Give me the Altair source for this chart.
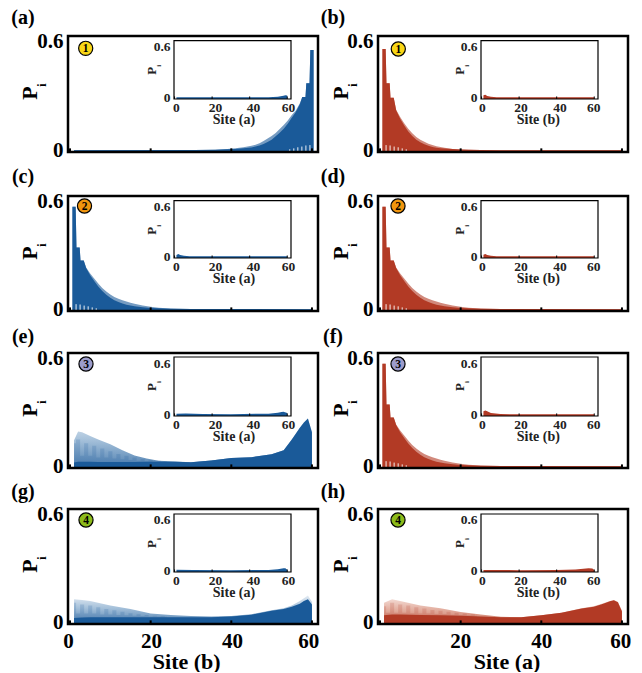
import altair as alt
import pandas as pd

BLUE = "#1a5a99"
RED = "#b23a25"
FONT = "Liberation Serif"
BADGE_COLORS = {1: "#f9d616", 2: "#f0950e", 3: "#9c9ccb", 4: "#8dbb1a"}
TICK_SITES = [0, 20, 40, 60]
# Where the printed tick labels sit along the site axis (the figure's labels are slightly off their ticks)
MAIN_LABEL_AT = [[-.5, 20.1, 40.2, 59.1], [-.57, 19.9, 40, 59.6]]
INSET_LABEL_AT = [[.75, 21.5, 41.7, 60.4], [.2, 20.7, 41.5, 59.5]]

# Spike profiles: sites measured from the spike edge, flat-topped columns for the first three sites
SPIKE_N = [.6, 1.4, 1.6, 2.4, 2.6, 3.4, 4, 5, 6, 7, 8, 9, 10, 11, 12, 13, 14, 15, 16, 18, 20, 22, 25, 30, 60]
CURVE_A_OUT = [.553, .553, .37, .37, .295, .295, .26, .22, .195, .165, .14, .118, .096, .08, .066, .052, .04, .032, .026, .018, .012, .008, .005, .003, .002]
CURVE_A_IN = [.553, .553, .37, .37, .295, .295, .255, .212, .18, .148, .12, .098, .078, .06, .047, .036, .028, .022, .017, .012, .009, .007, .005, .003, .002]
CURVE_B_OUT = [.558, .558, .37, .37, .29, .29, .225, .185, .15, .12, .095, .075, .06, .048, .038, .03, .024, .019, .015, .009, .006, .004, .003, .002, .002]
CURVE_B_IN = [.558, .558, .37, .37, .29, .29, .222, .175, .138, .105, .08, .06, .045, .034, .026, .02, .016, .013, .011, .008, .006, .004, .003, .002, .002]
CURVE_C_OUT = [.57, .57, .344, .344, .272, .272, .234, .2, .173, .145, .12, .1, .083, .07, .06, .052, .045, .038, .032, .022, .015, .01, .006, .003, .002]
CURVE_C_IN = [.57, .57, .344, .344, .272, .272, .23, .19, .158, .128, .103, .082, .066, .052, .042, .034, .027, .022, .018, .013, .009, .007, .005, .003, .002]

GAP_N = [1.5, 2.5, 3.5, 4.5, 5.5, 6.5]
GAP_TOP = [.03, .028, .022, .018, .012, .007]

E_SITES = [1, 2, 3, 5, 7, 10, 13, 16, 19, 22, 26, 30, 35, 40, 45, 50, 53, 55, 57, 58, 59, 60]
E_OUT = [.146, .195, .19, .17, .15, .124, .09, .062, .045, .032, .028, .024, .033, .047, .052, .068, .09, .15, .215, .245, .267, .19]
E_IN = [.022, .026, .026, .026, .025, .025, .025, .025, .026, .026, .026, .024, .033, .047, .052, .068, .09, .15, .215, .245, .267, .19]
E_MID_SITES = list(range(1, 25))
E_MID = [.13, .15, .06, .13, .06, .115, .05, .10, .05, .085, .045, .07, .04, .06, .036, .05, .032, .042, .03, .036, .028, .032, .026, .028]

G_SITES = [1, 3, 5, 10, 15, 20, 25, 30, 35, 40, 45, 50, 53, 55, 57, 58, 59, 60]
G_OUT = [.13, .125, .12, .095, .075, .05, .042, .037, .034, .036, .046, .068, .08, .095, .12, .135, .15, .115]
G_IN = [.025, .028, .03, .03, .03, .03, .03, .03, .03, .034, .044, .065, .075, .088, .105, .12, .13, .1]
G_MID_SITES = list(range(1, 25))
G_MID = [.11, .05, .10, .05, .095, .05, .085, .045, .075, .045, .068, .042, .06, .04, .052, .038, .046, .036, .042, .034, .038, .033, .036, .032]

H_OUT = [.11, .13, .12, .095, .08, .058, .045, .032, .03, .04, .055, .08, .09, .105, .12, .125, .115, .065]
H_IN = [.04, .045, .045, .042, .04, .038, .034, .03, .03, .04, .055, .078, .088, .102, .118, .124, .113, .062]
H_MID_SITES = list(range(1, 25))
H_MID = [.09, .055, .11, .055, .1, .055, .095, .052, .085, .05, .078, .05, .07, .048, .066, .048, .06, .044, .054, .042, .05, .04, .046, .038]

INSET_END = {
    "a": ([1, 40, 50, 55, 58, 59, 60], [.005, .005, .007, .012, .022, .03, .025]),
    "b": ([1, 2, 3, 5, 8, 12, 60], [.03, .035, .02, .012, .006, .005, .005]),
    "c": ([1, 2, 3, 5, 8, 12, 60], [.02, .034, .022, .012, .006, .005, .005]),
    "d": ([1, 2, 3, 5, 8, 12, 60], [.025, .032, .02, .012, .006, .005, .005]),
    "e": ([1, 6, 15, 30, 50, 55, 57, 58, 60], [.012, .015, .008, .006, .012, .022, .03, .035, .02]),
    "f": ([1, 2, 3, 5, 10, 15, 60], [.04, .05, .04, .02, .007, .005, .005]),
    "g": ([1, 10, 30, 50, 55, 58, 59, 60], [.012, .009, .006, .01, .018, .03, .028, .012]),
    "h": ([1, 20, 40, 50, 57, 59, 60], [.008, .007, .01, .016, .03, .025, .01]),
}

PAD_TOP = 4
MX = 8            # page margin
MY = 8 + PAD_TOP  # page margin + chart padding
W, H = 626, 660
ROWS = [(36, 152), (196, 311), (353, 468), (509, 624)]
COLS = [(68, 318), (378, 628)]
INSET_ROWS = [(40.7, 99), (200.7, 258), (357, 416), (514, 572)]
INSET_COLS = [(174, 291), (481, 598)]
XD = [-0.5, 61.5]
YD = [-0.008, 0.63]
IXD = [-0.3, 62]
IYD = [-0.015, 0.67]
ROUND_LABEL = "format(round(datum.value / 20) * 20, 'd')"


def xsc(domain, a, b):
    return alt.Scale(domain=domain, range=[a - MX, b - MX], nice=False, zero=False)


def ysc(domain, a, b):
    return alt.Scale(domain=domain, range=[a - MY, b - MY], nice=False, zero=False)


def frame(xs, ys, sw):
    return alt.Chart(pd.DataFrame({"k": [0]})).mark_rect(
        fill="transparent", stroke="black", strokeWidth=sw
    ).encode(
        x=alt.X(datum=xs.domain[0], type="quantitative", scale=xs, axis=None),
        x2=alt.X2(datum=xs.domain[1]),
        y=alt.Y(datum=ys.domain[0], type="quantitative", scale=ys, axis=None),
        y2=alt.Y2(datum=ys.domain[1]),
    )


def area(sites, vals, xs, ys, color, op=1.0, interp="linear"):
    df = pd.DataFrame({"s": sites, "v": vals})
    return alt.Chart(df).mark_area(color=color, opacity=op, interpolate=interp).encode(
        x=alt.X("s:Q", scale=xs, axis=None),
        y=alt.Y("v:Q", scale=ys, axis=None),
        y2=alt.Y2(datum=ys.domain[0]),
    )


def fade(sites, vals, xs, ys, stops):
    grad = alt.Gradient(gradient="linear", x1=0, x2=0, y1=0, y2=1,
                        stops=[alt.GradientStop(offset=o, color=col) for o, col in stops])
    df = pd.DataFrame({"s": sites, "v": vals})
    return alt.Chart(df).mark_area(color=grad).encode(
        x=alt.X("s:Q", scale=xs, axis=None),
        y=alt.Y("v:Q", scale=ys, axis=None),
        y2=alt.Y2(datum=ys.domain[0]),
    )


def comb(sites, tops, xs, ys):
    df = pd.DataFrame({"s": sites, "v": tops})
    return alt.Chart(df).mark_rule(color="white", strokeWidth=1, opacity=0.9).encode(
        x=alt.X("s:Q", scale=xs, axis=None),
        y=alt.Y("v:Q", scale=ys, axis=None),
        y2=alt.Y2(datum=ys.domain[0]),
    )


def xticks(xs, ys, top, sw):
    df = pd.DataFrame({"s": TICK_SITES})
    return alt.Chart(df).mark_rule(color="black", strokeWidth=sw).encode(
        x=alt.X("s:Q", scale=xs, axis=None),
        y=alt.Y(datum=ys.domain[0], type="quantitative", scale=ys, axis=None),
        y2=alt.Y2(datum=top),
    )


def yaxis_layer(xs, ys, x_left, label_size, pad, label_color, x_axis, y_bottom):
    vals = [0, 0.6]
    yax = alt.Axis(values=vals, orient="left", offset=-(x_left - MX), title=None, ticks=False, domain=False,
                   grid=False, labelFont=FONT, labelFontWeight="bold", labelFontSize=label_size,
                   labelPadding=pad, labelColor=label_color, labelOverlap=False, labelBound=False,
                   labelFlush=False, format="~g")
    xax = None
    if x_axis:
        xax = alt.Axis(values=x_axis["at"], orient="bottom", offset=(y_bottom - MY) - H, title=None, ticks=False,
                       domain=False, grid=False, labelFont=FONT, labelFontWeight="bold",
                       labelFontSize=x_axis["size"], labelPadding=x_axis["pad"], labelColor=label_color,
                       labelOverlap=False, labelBound=False, labelFlush=False, labelExpr=ROUND_LABEL)
    return alt.Chart(pd.DataFrame({"k": [0]})).mark_point(opacity=0).encode(
        x=alt.X(datum=0, type="quantitative", scale=xs, axis=xax),
        y=alt.Y(datum=0, type="quantitative", scale=ys, axis=yax),
    )


def text_layer(rows, size, weight="bold", angle=0, color="black"):
    df = pd.DataFrame(rows, columns=["t", "x", "y"])
    df["x"] -= MX
    df["y"] -= MY
    return alt.Chart(df).mark_text(
        font=FONT, fontSize=size, fontWeight=weight, angle=angle, color=color,
        align="center", baseline="middle",
    ).encode(
        x=alt.X("x:Q", scale=None, axis=None),
        y=alt.Y("y:Q", scale=None, axis=None),
        text="t:N",
    )


BLUE_FADE = [(0, "#e3ebf3"), (0.45, "#a3bfd9"), (1, "#4f80b0")]
RED_FADE = [(0, "#f3d9d2"), (0.5, "#e0a797"), (1, "#c46a55")]


def main_layers(letter, xs, ys, color):
    out = []
    if letter in "abcdf":
        outer, inner = {"a": (CURVE_A_OUT, CURVE_A_IN), "b": (CURVE_B_OUT, CURVE_B_IN)}.get(letter, (CURVE_C_OUT, CURVE_C_IN))
        sites = [61 - n for n in SPIKE_N] if letter == "a" else SPIKE_N
        out.append(area(sites, outer, xs, ys, color, .6))
        out.append(area(sites, inner, xs, ys, color, 1))
        gaps = [61 - g for g in GAP_N] if letter == "a" else GAP_N
        out.append(comb(gaps, GAP_TOP, xs, ys))
    else:
        table = {"e": (E_SITES, E_OUT, E_IN, E_MID_SITES, E_MID),
                 "g": (G_SITES, G_OUT, G_IN, G_MID_SITES, G_MID),
                 "h": (G_SITES, H_OUT, H_IN, H_MID_SITES, H_MID)}
        s, o, i, ms, mv = table[letter]
        out.append(fade(s, o, xs, ys, RED_FADE if letter == "h" else BLUE_FADE))
        out.append(area(ms, mv, xs, ys, color, .18, "step"))
        out.append(area(s, i, xs, ys, color, 1))
    return out


layers = []
panel_labels, p_main, i_main, p_in, i_in, inset_titles = [], [], [], [], [], []
badges, badge_text = [], []
letters = ["a", "b", "c", "d", "e", "f", "g", "h"]
BADGE_POS = {"a": (85.7, 48.3), "b": (398.3, 49), "c": (84.5, 206), "d": (398, 206),
             "e": (86, 364), "f": (398, 364), "g": (86, 520), "h": (398, 520)}
LABEL_Y = [18, 177, 337, 492]
P_X = [(30, 42), (340.5, 353)]
IP_X = [(152, 159), (459.6, 466.7)]
INSET_TITLE_X = [234, 538.3]

for idx, letter in enumerate(letters):
    r, c = idx // 2, idx % 2
    top, bottom = ROWS[r]
    left, right = COLS[c]
    color = BLUE if c == 0 else RED
    xs = xsc(XD, left, right)
    ys = ysc(YD, bottom, top)
    layers.extend(main_layers(letter, xs, ys, color))
    layers.append(xticks(xs, ys, 0.012, 2))
    layers.append(frame(xs, ys, 2.5))
    layers.append(yaxis_layer(xs, ys, left, 21, 5, "black",
                              {"size": 21, "pad": 6, "at": MAIN_LABEL_AT[c]} if r == 3 else None, bottom))
    # inset
    itop, ibot = INSET_ROWS[r]
    ileft, iright = INSET_COLS[c]
    ixs = xsc(IXD, ileft, iright)
    iys = ysc(IYD, ibot, itop)
    isites, ivals = INSET_END[letter]
    layers.append(area(isites, ivals, ixs, iys, color))
    layers.append(xticks(ixs, iys, 0.015, 1))
    layers.append(frame(ixs, iys, 1.2))
    layers.append(yaxis_layer(ixs, iys, ileft, 13.5, 4, "#222222",
                              {"size": 13.5, "pad": 1, "at": INSET_LABEL_AT[c]}, ibot))

    panel_labels.append((f"({letter})", 23 if c == 0 else 333, LABEL_Y[r]))
    p_main.append(("P", P_X[c][0], top + 57))
    i_main.append(("i", P_X[c][1], top + 49))
    p_in.append(("P", IP_X[c][0], itop + 30))
    i_in.append(("i", IP_X[c][1], itop + 25))
    inset_titles.append(("Site (a)" if c == 0 else "Site (b)", INSET_TITLE_X[c], ibot + 20.5))
    bx, by = BADGE_POS[letter]
    badges.append((letter, bx, by, BADGE_COLORS[r + 1]))
    badge_text.append((str(r + 1), bx, by + 0.5))

main_titles = [("Site (b)", 186.7, 661.5), ("Site (a)", 507, 661.5)]

bdf = pd.DataFrame(badges, columns=["k", "x", "y", "col"])
bdf["x"] -= MX
bdf["y"] -= MY
badge_layer = alt.Chart(bdf).mark_point(filled=True, size=200, stroke="black", strokeWidth=1.2, opacity=1).encode(
    x=alt.X("x:Q", scale=None, axis=None),
    y=alt.Y("y:Q", scale=None, axis=None),
    fill=alt.Fill("col:N", scale=None, legend=None),
)

texts = [
    badge_layer,
    text_layer(badge_text, 11.5),
    text_layer(panel_labels, 20),
    text_layer(p_main, 22, angle=270),
    text_layer(i_main, 12, angle=270),
    text_layer(p_in, 13, angle=270, color="#222222"),
    text_layer(i_in, 7, angle=270, color="#222222"),
    text_layer(inset_titles, 14, color="#222222"),
    text_layer(main_titles, 22),
]

chart = alt.layer(*layers, *texts).resolve_scale(x="independent", y="independent").properties(
    width=W, height=H, padding={"left": 0, "right": 0, "top": PAD_TOP, "bottom": 0},
    autosize=alt.AutoSizeParams(type="none"),
).configure_view(stroke=None)

chart.save("out.html", embed_options={"renderer": "svg", "actions": False})
